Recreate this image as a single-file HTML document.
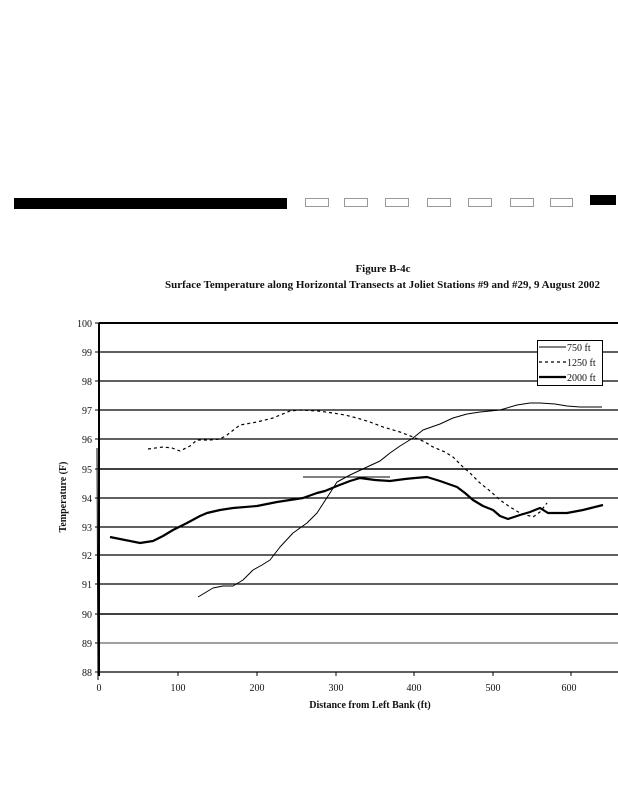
<!DOCTYPE html>
<html><head><meta charset="utf-8"><style>
html,body{margin:0;padding:0;background:#fff;}
svg{display:block;}
text{font-family:"Liberation Serif",serif;fill:#111;}
</style></head><body>
<svg width="618" height="800" viewBox="0 0 618 800" xmlns="http://www.w3.org/2000/svg">
<rect x="14" y="198" width="273" height="11" fill="#000"/>
<g fill="none" stroke="#999" stroke-width="1">
<rect x="305.5" y="198.5" width="23" height="8"/>
<rect x="344.5" y="198.5" width="23" height="8"/>
<rect x="385.5" y="198.5" width="23" height="8"/>
<rect x="427.5" y="198.5" width="23" height="8"/>
<rect x="468.5" y="198.5" width="23" height="8"/>
<rect x="510.5" y="198.5" width="23" height="8"/>
<rect x="550.5" y="198.5" width="22" height="8"/>
</g>
<rect x="590" y="195" width="26" height="10" fill="#000"/>
<text x="383" y="272" font-size="11" font-weight="bold" text-anchor="middle">Figure B-4c</text>
<text x="165" y="288" font-size="11" font-weight="bold" textLength="435" lengthAdjust="spacingAndGlyphs">Surface Temperature along Horizontal Transects at Joliet Stations #9 and #29, 9 August 2002</text>
<g stroke="#000" stroke-width="1.2">
<line x1="99" y1="323" x2="618" y2="323" stroke-width="2"/>
<line x1="99" y1="352" x2="618" y2="352"/>
<line x1="99" y1="381" x2="618" y2="381"/>
<line x1="99" y1="410" x2="618" y2="410"/>
<line x1="99" y1="439" x2="618" y2="439"/>
<line x1="99" y1="469" x2="618" y2="469" stroke-width="1.6"/>
<line x1="99" y1="498" x2="618" y2="498"/>
<line x1="99" y1="527" x2="618" y2="527"/>
<line x1="99" y1="555" x2="618" y2="555"/>
<line x1="99" y1="584" x2="618" y2="584"/>
<line x1="99" y1="614" x2="618" y2="614" stroke-width="1.6"/>
<line x1="99" y1="643" x2="618" y2="643" stroke-width="0.8"/>
<line x1="99" y1="672" x2="618" y2="672"/>
<line x1="99" y1="323" x2="99" y2="676" stroke-width="2"/>
<line x1="97" y1="448" x2="98" y2="680" stroke-width="1"/>
<line x1="303" y1="477" x2="390" y2="477" stroke-width="1"/>
</g>
<g stroke="#000" stroke-width="1">
<line x1="95" y1="323" x2="99" y2="323"/><line x1="95" y1="352" x2="99" y2="352"/><line x1="95" y1="381" x2="99" y2="381"/><line x1="95" y1="410" x2="99" y2="410"/><line x1="95" y1="439" x2="99" y2="439"/><line x1="95" y1="469" x2="99" y2="469"/><line x1="95" y1="498" x2="99" y2="498"/><line x1="95" y1="527" x2="99" y2="527"/><line x1="95" y1="555" x2="99" y2="555"/><line x1="95" y1="584" x2="99" y2="584"/><line x1="95" y1="614" x2="99" y2="614"/><line x1="95" y1="643" x2="99" y2="643"/><line x1="95" y1="672" x2="99" y2="672"/>
<line x1="178" y1="672" x2="178" y2="676"/><line x1="257" y1="672" x2="257" y2="676"/><line x1="336" y1="672" x2="336" y2="676"/><line x1="414" y1="672" x2="414" y2="676"/><line x1="493" y1="672" x2="493" y2="676"/><line x1="571" y1="672" x2="571" y2="676"/>
</g>
<g font-size="10" text-anchor="end">
<text x="92" y="327">100</text><text x="92" y="356">99</text><text x="92" y="385">98</text><text x="92" y="414">97</text><text x="92" y="443">96</text><text x="92" y="473">95</text><text x="92" y="502">94</text><text x="92" y="531">93</text><text x="92" y="559">92</text><text x="92" y="588">91</text><text x="92" y="618">90</text><text x="92" y="647">89</text><text x="92" y="676">88</text>
</g>
<g font-size="10" text-anchor="middle">
<text x="99" y="691">0</text><text x="178" y="691">100</text><text x="257" y="691">200</text><text x="336" y="691">300</text><text x="414" y="691">400</text><text x="493" y="691">500</text><text x="569" y="691">600</text>
</g>
<text x="370" y="708" font-size="10" font-weight="bold" text-anchor="middle">Distance from Left Bank (ft)</text>
<text transform="translate(66,497) rotate(-90)" font-size="10" font-weight="bold" text-anchor="middle">Temperature (F)</text>
<g fill="none" stroke="#000" stroke-linejoin="round">
<polyline stroke-width="1" points="198,597 213,588 223,586 233,586 243,580 253,570 262,565 270,560 280,547 293,533 307,523 317,513 330,493 337,482 350,475 367,467 380,461 390,453 400,446 413,438 423,430 440,424 453,418 467,414 480,412 500,410 517,405 530,403 540,403 555,404 567,406 580,407 602,407"/>
<polyline stroke-width="2.2" points="110,537 125,540 140,543 153,541 163,536 173,530 187,523 200,516 207,513 220,510 233,508 257,506 277,502 303,498 317,493 325,491 337,486 350,481 360,478 375,480 390,481 405,479 415,478 427,477 440,481 457,487 465,493 473,500 483,506 493,510 500,516 508,519 520,515 530,512 540,508 548,513 567,513 583,510 603,505"/>
<polyline stroke-width="1.2" stroke-dasharray="3,3" points="148,449 163,447 172,448 180,451 190,446 197,440 210,440 220,439 227,435 240,425 257,422 273,418 290,411 300,410 318,411 333,413 345,415 357,418 370,422 383,427 400,432 413,437 425,442 433,447 445,452 453,457 463,467 470,473 480,483 490,491 500,500 510,507 520,513 533,517 540,512 547,503"/>
</g>
<rect x="537.5" y="340.5" width="65" height="45" fill="#fff" stroke="#000" stroke-width="1"/>
<line x1="539" y1="347" x2="566" y2="347" stroke="#000" stroke-width="1"/>
<line x1="539" y1="362" x2="566" y2="362" stroke="#000" stroke-width="1.2" stroke-dasharray="3,3"/>
<line x1="539" y1="377" x2="566" y2="377" stroke="#000" stroke-width="2.2"/>
<g font-size="10">
<text x="567" y="351">750 ft</text><text x="567" y="366">1250 ft</text><text x="567" y="381">2000 ft</text>
</g>
</svg>
</body></html>
